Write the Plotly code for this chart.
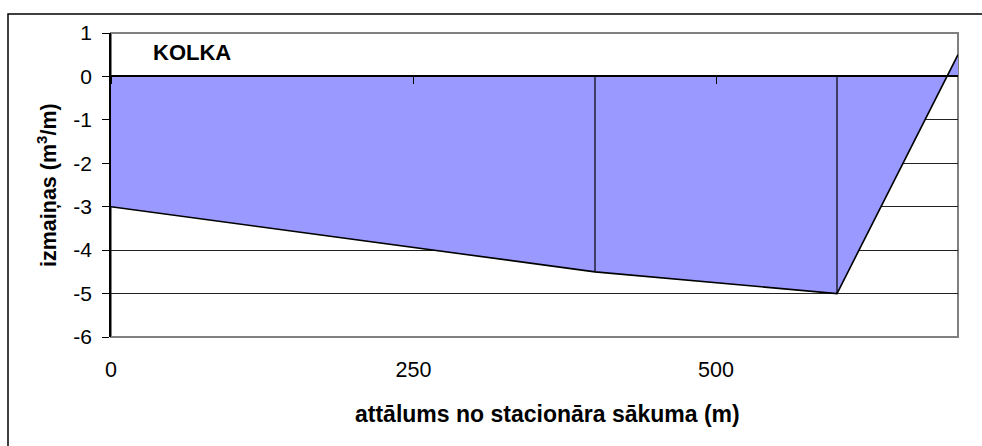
import plotly.graph_objects as go

# Profile change along the transect
distance_m = [0, 400, 600, 700]
change_m3_per_m = [-3.0, -4.5, -5.0, 0.5]

# Intermediate profile stations marked with drop lines to zero
station_x = [400, 600]
station_y = [-4.5, -5.0]

x_ticks = [0, 250, 500]
y_ticks = [-6, -5, -4, -3, -2, -1, 0, 1]

FONT = "Liberation Sans, Arial, sans-serif"

fig = go.Figure()

fig.add_trace(go.Scatter(
    x=distance_m, y=change_m3_per_m,
    mode="lines", fill="tozeroy", fillcolor="#9999FF",
    line=dict(color="black", width=1.6),
    hoverinfo="x+y", showlegend=False,
))

drop_x, drop_y = [], []
for sx, sy in zip(station_x, station_y):
    drop_x += [sx, sx, None]
    drop_y += [0, sy, None]
fig.add_trace(go.Scatter(
    x=drop_x, y=drop_y, mode="lines",
    line=dict(color="black", width=1.2),
    hoverinfo="skip", showlegend=False,
))

# invisible trace on the overlay axis that carries the zero-line ticks
fig.add_trace(go.Scatter(
    x=[0, 700], y=[0, 0], xaxis="x2", mode="lines",
    line=dict(color="rgba(0,0,0,0)"), hoverinfo="skip", showlegend=False,
))

PLOT_W, PLOT_H = 847, 304

fig.update_layout(
    width=982, height=446,
    margin=dict(l=111, r=24, t=33, b=109),
    paper_bgcolor="white", plot_bgcolor="white",
    font=dict(family=FONT, color="black"),
    xaxis=dict(
        range=[0, 700], tickvals=x_ticks, ticktext=[str(v) for v in x_ticks],
        showgrid=False, zeroline=False, showline=False, ticks="",
        tickfont=dict(size=21.5, family=FONT), ticklabelstandoff=17,
        fixedrange=True,
    ),
    xaxis2=dict(
        range=[0, 700], overlaying="x", anchor="free", position=6 / 7,
        side="bottom", tickvals=x_ticks, showticklabels=False,
        ticks="outside", ticklen=7, tickcolor="black", tickwidth=1.2,
        showline=True, linecolor="black", linewidth=2,
        showgrid=False, zeroline=False, layer="above traces",
    ),
    yaxis=dict(
        range=[-6, 1], tickvals=y_ticks, ticktext=[str(v) for v in y_ticks],
        showgrid=True, gridcolor="#222222", gridwidth=1,
        zeroline=False, showline=True, linecolor="black", linewidth=1.5,
        ticks="outside", ticklen=7, tickcolor="black", tickwidth=1.2,
        tickfont=dict(size=21, family=FONT), ticklabelstandoff=6,
        layer="above traces", fixedrange=True,
    ),
    shapes=[
        # plot-area frame
        dict(type="rect", xref="paper", yref="paper", x0=0, x1=1, y0=0, y1=1,
             line=dict(color="#808080", width=2), layer="below"),
        # chart-area border
        dict(type="rect", xref="paper", yref="paper",
             x0=(8 - 111) / PLOT_W, x1=(1000 - 111) / PLOT_W,
             y0=-(470 - 337) / PLOT_H, y1=1 + (33 - 14) / PLOT_H,
             line=dict(color="black", width=1.5)),
    ],
    annotations=[
        dict(text="<b>KOLKA</b>", xref="paper", yref="paper",
             x=(192 - 111) / PLOT_W, y=1 - (53 - 33) / PLOT_H,
             xanchor="center", yanchor="middle", showarrow=False,
             font=dict(size=22, family=FONT)),
        dict(text="<b>izmaiņas (m<sup>3</sup>/m)</b>", xref="paper", yref="paper",
             x=(47 - 111) / PLOT_W, y=0.5, textangle=-90,
             xanchor="center", yanchor="middle", showarrow=False,
             font=dict(size=21.5, family=FONT)),
        dict(text="<b>attālums no stacionāra sākuma (m)</b>", xref="paper", yref="paper",
             x=(547 - 111) / PLOT_W, y=-(414 - 337) / PLOT_H,
             xanchor="center", yanchor="middle", showarrow=False,
             font=dict(size=23, family=FONT)),
    ],
)

fig.write_html("out.html")
